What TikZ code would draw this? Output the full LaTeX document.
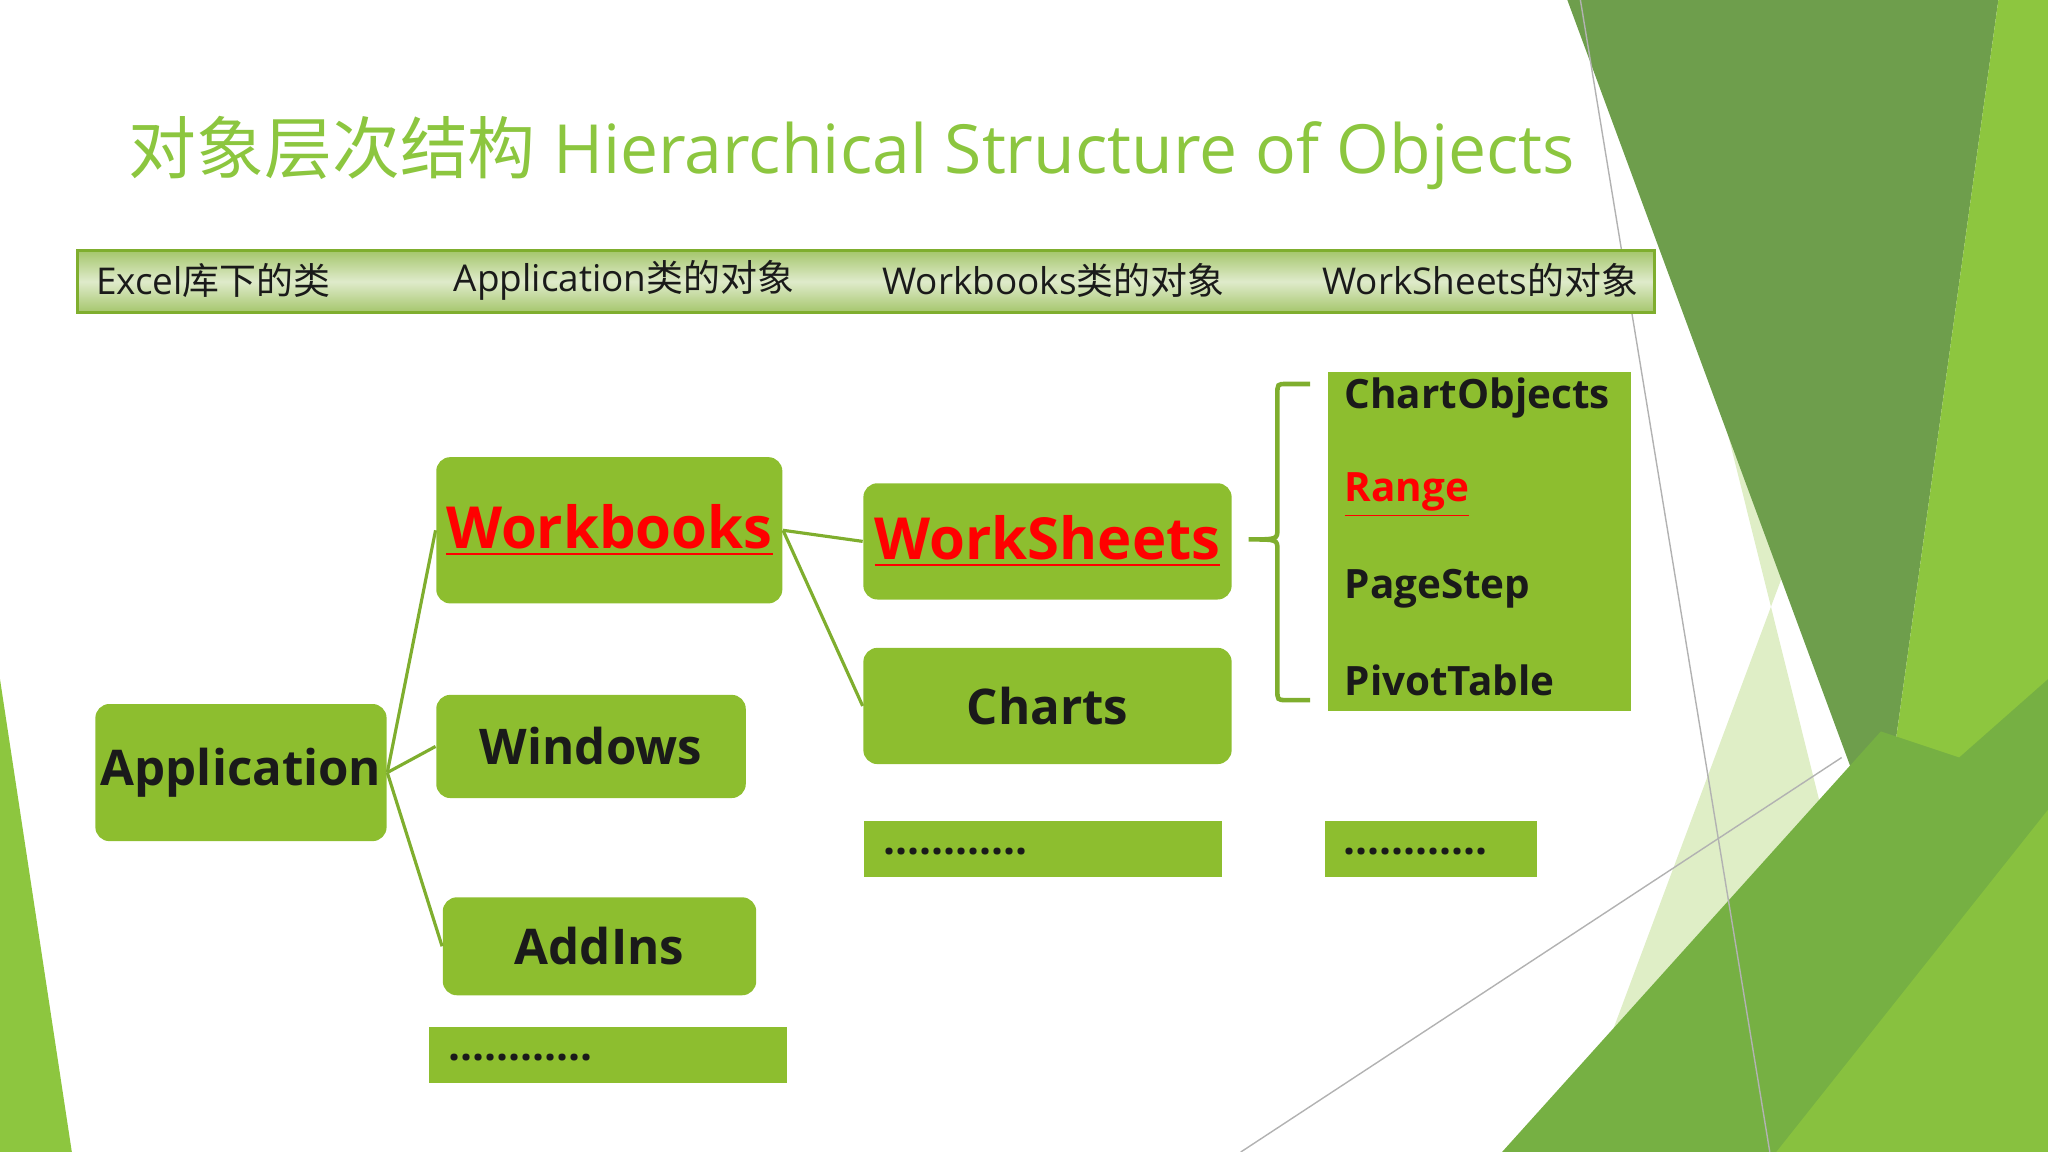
\documentclass[tikz,border=0pt]{standalone}
\usepackage{fontspec}
\setmainfont{Open Sans}
\newfontfamily\cjk{Noto Sans CJK SC}
\begin{document}
\begin{tikzpicture}[x=0.013061cm,y=-0.013061cm,
  wh/.style 2 args={minimum width={#1*0.3716pt},minimum height={#2*0.3716pt},inner sep=0},
  box/.style={draw=none,fill=boxg,rounded corners=4pt,font=\bfseries\fontsize{14}{16}\selectfont,text=txt},
  sq/.style={draw=none,fill=boxg,anchor=north west},
  conn/.style={draw=lineg,line width=0.9pt},
  hdr/.style={font=\fontsize{10.5}{12}\selectfont,anchor=west,text=txt}]
\definecolor{boxg}{HTML}{8DBE2F}
\definecolor{lineg}{HTML}{7FAE2E}
\definecolor{titleg}{HTML}{8CC63F}
\definecolor{dg}{HTML}{6E9E4C}
\definecolor{bg1}{HTML}{8DC63F}
\definecolor{lg}{HTML}{C9E2A0}
\definecolor{mg}{HTML}{76B043}
\definecolor{txt}{HTML}{1A1A1A}
\useasboundingbox (0,0) rectangle (1568,882);
% background shapes
\fill[lg,opacity=0.6] (1240,0) -- (1460,882) -- (1200,882) -- (1380,400) -- cycle;
\fill[dg] (1200,0) -- (1530,0) -- (1440,650) -- cycle;
\fill[bg1] (1530,0) -- (1568,0) -- (1568,882) -- (1430,882) -- (1440,650) -- cycle;
\fill[mg] (1150,882) -- (1440,560) -- (1500,580) -- (1568,520) -- (1568,882) -- cycle;
\fill[bg1,opacity=0.8] (1360,882) -- (1568,620) -- (1568,882) -- cycle;
\fill[bg1] (0,520) -- (0,882) -- (55,882) -- cycle;
\draw[gray!60,line width=0.4pt] (1210,0) -- (1355,882);
\draw[gray!60,line width=0.4pt] (950,882) -- (1410,580);
% title
\node[anchor=west,text=titleg,font=\fontsize{19.3}{22}\selectfont,inner sep=0] (title) at (98,117) {{\cjk 对象层次结构} Hierarchical Structure of Objects};
% header bar
\node[draw=lineg,line width=0.8pt,wh={1208}{47},anchor=north west,
  top color=lineg!70!white,bottom color=lineg!70!white,middle color=lineg!25!white] (bar) at (58,191) {};
\node[hdr] (h1) at (64,215) {Excel{\cjk 库下的类}};
\node[hdr] (h2) at (338,215) {Application{\cjk 类的对象}};
\node[hdr] (h3) at (666,215) {Workbooks{\cjk 类的对象}};
\node[hdr] (h4) at (1003,215) {WorkSheets{\cjk 的对象}};
% boxes
\node[box,wh={223}{105}] (app) at (184.5,591.5) {Application};
\node[box,wh={265}{112},text=red,font=\bfseries\fontsize{16.5}{18}\selectfont] (wb) at (466.5,406) {\underline{Workbooks}};
\node[box,wh={237}{79}] (win) at (452.5,571.5) {Windows};
\node[box,wh={240}{75}] (add) at (459,724.5) {AddIns};
\node[sq,wh={274}{43}] (d1) at (328,786) {};
\node[anchor=west,font=\bfseries\fontsize{12}{14}\selectfont,text=txt] (d1t) at (334,810) {............};
\node[box,wh={282}{89},text=red,font=\bfseries\fontsize{16.5}{18}\selectfont] (ws) at (802,414.5) {\underline{WorkSheets}};
\node[box,wh={282}{89}] (ch) at (802,540.5) {Charts};
\node[sq,wh={274}{43}] (d2) at (661,628) {};
\node[anchor=west,font=\bfseries\fontsize{12}{14}\selectfont,text=txt] (d2t) at (667,652) {............};
\node[sq,wh={232}{260}] (list) at (1016,284) {};
\begin{scope}[font=\bfseries\fontsize{11.5}{13}\selectfont,text=txt]
\node[anchor=west] (l1) at (1020,305) {ChartObjects};
\node[anchor=west,text=red] (l2) at (1020,379) {\underline{Range}};
\node[anchor=west] (l3) at (1020,451) {PageStep};
\node[anchor=west] (l4) at (1020,521) {PivotTable};
\end{scope}
\node[sq,wh={162}{43}] (d3) at (1014,628) {};
\node[anchor=west,font=\bfseries\fontsize{12}{14}\selectfont,text=txt] (d3t) at (1019,652) {............};
% brace
\draw[lineg,line width=1.3pt] (1003,294) -- (985,294) .. controls (978,294) .. (978,302) -- (978,405) .. controls (978,413) .. (956,413) .. controls (978,413) .. (978,421) -- (978,528) .. controls (978,536) .. (985,536) -- (1003,536);
% connectors
\draw[conn] (app.east) -- (wb.west);
\draw[conn] (app.east) -- (win.west);
\draw[conn] (app.east) -- (add.west);
\draw[conn] (wb.east) -- (ws.west);
\draw[conn] (wb.east) -- (ch.west);
\end{tikzpicture}
\end{document}
